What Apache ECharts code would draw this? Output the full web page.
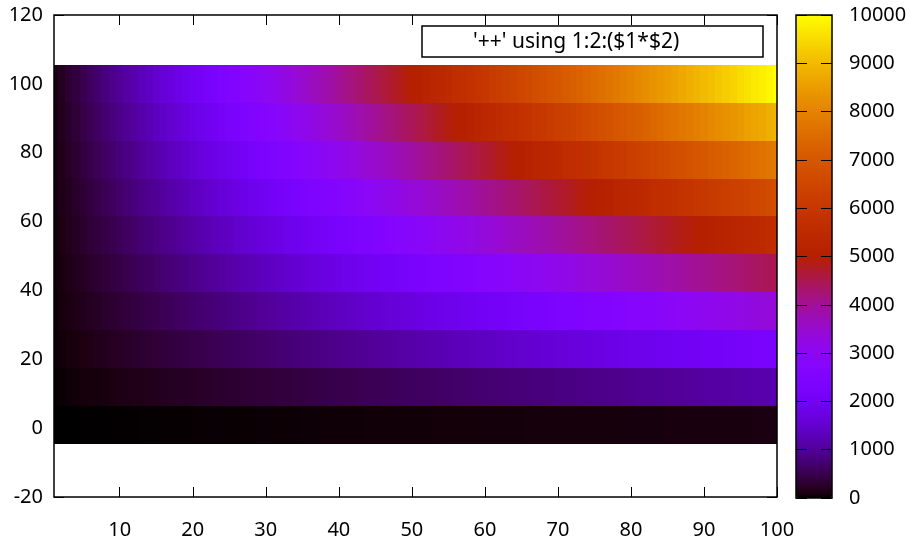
<!DOCTYPE html>
<html>
<head>
<meta charset="utf-8">
<script src="https://cdn.jsdelivr.net/npm/echarts@6/dist/echarts.min.js"></script>
<style>
html,body{margin:0;padding:0;background:#fff;}
#chart{width:911px;height:540px;}
</style>
</head>
<body>
<div id="chart"></div>
<script>
// ---- data ----
const xValues = [1,2,3,4,5,6,7,8,9,10,11,12,13,14,15,16,17,18,19,20,21,22,23,24,25,26,27,28,29,30,31,32,33,34,35,36,37,38,39,40,41,42,43,44,45,46,47,48,49,50,51,52,53,54,55,56,57,58,59,60,61,62,63,64,65,66,67,68,69,70,71,72,73,74,75,76,77,78,79,80,81,82,83,84,85,86,87,88,89,90,91,92,93,94,95,96,97,98,99,100];
const yValues = [1, 12, 23, 34, 45, 56, 67, 78, 89, 100];

const zRowY1 = [1,2,3,4,5,6,7,8,9,10,11,12,13,14,15,16,17,18,19,20,21,22,23,24,25,26,27,28,29,30,31,32,33,34,35,36,37,38,39,40,41,42,43,44,45,46,47,48,49,50,51,52,53,54,55,56,57,58,59,60,61,62,63,64,65,66,67,68,69,70,71,72,73,74,75,76,77,78,79,80,81,82,83,84,85,86,87,88,89,90,91,92,93,94,95,96,97,98,99,100];
const zRowY12 = [12,24,36,48,60,72,84,96,108,120,132,144,156,168,180,192,204,216,228,240,252,264,276,288,300,312,324,336,348,360,372,384,396,408,420,432,444,456,468,480,492,504,516,528,540,552,564,576,588,600,612,624,636,648,660,672,684,696,708,720,732,744,756,768,780,792,804,816,828,840,852,864,876,888,900,912,924,936,948,960,972,984,996,1008,1020,1032,1044,1056,1068,1080,1092,1104,1116,1128,1140,1152,1164,1176,1188,1200];
const zRowY23 = [23,46,69,92,115,138,161,184,207,230,253,276,299,322,345,368,391,414,437,460,483,506,529,552,575,598,621,644,667,690,713,736,759,782,805,828,851,874,897,920,943,966,989,1012,1035,1058,1081,1104,1127,1150,1173,1196,1219,1242,1265,1288,1311,1334,1357,1380,1403,1426,1449,1472,1495,1518,1541,1564,1587,1610,1633,1656,1679,1702,1725,1748,1771,1794,1817,1840,1863,1886,1909,1932,1955,1978,2001,2024,2047,2070,2093,2116,2139,2162,2185,2208,2231,2254,2277,2300];
const zRowY34 = [34,68,102,136,170,204,238,272,306,340,374,408,442,476,510,544,578,612,646,680,714,748,782,816,850,884,918,952,986,1020,1054,1088,1122,1156,1190,1224,1258,1292,1326,1360,1394,1428,1462,1496,1530,1564,1598,1632,1666,1700,1734,1768,1802,1836,1870,1904,1938,1972,2006,2040,2074,2108,2142,2176,2210,2244,2278,2312,2346,2380,2414,2448,2482,2516,2550,2584,2618,2652,2686,2720,2754,2788,2822,2856,2890,2924,2958,2992,3026,3060,3094,3128,3162,3196,3230,3264,3298,3332,3366,3400];
const zRowY45 = [45,90,135,180,225,270,315,360,405,450,495,540,585,630,675,720,765,810,855,900,945,990,1035,1080,1125,1170,1215,1260,1305,1350,1395,1440,1485,1530,1575,1620,1665,1710,1755,1800,1845,1890,1935,1980,2025,2070,2115,2160,2205,2250,2295,2340,2385,2430,2475,2520,2565,2610,2655,2700,2745,2790,2835,2880,2925,2970,3015,3060,3105,3150,3195,3240,3285,3330,3375,3420,3465,3510,3555,3600,3645,3690,3735,3780,3825,3870,3915,3960,4005,4050,4095,4140,4185,4230,4275,4320,4365,4410,4455,4500];
const zRowY56 = [56,112,168,224,280,336,392,448,504,560,616,672,728,784,840,896,952,1008,1064,1120,1176,1232,1288,1344,1400,1456,1512,1568,1624,1680,1736,1792,1848,1904,1960,2016,2072,2128,2184,2240,2296,2352,2408,2464,2520,2576,2632,2688,2744,2800,2856,2912,2968,3024,3080,3136,3192,3248,3304,3360,3416,3472,3528,3584,3640,3696,3752,3808,3864,3920,3976,4032,4088,4144,4200,4256,4312,4368,4424,4480,4536,4592,4648,4704,4760,4816,4872,4928,4984,5040,5096,5152,5208,5264,5320,5376,5432,5488,5544,5600];
const zRowY67 = [67,134,201,268,335,402,469,536,603,670,737,804,871,938,1005,1072,1139,1206,1273,1340,1407,1474,1541,1608,1675,1742,1809,1876,1943,2010,2077,2144,2211,2278,2345,2412,2479,2546,2613,2680,2747,2814,2881,2948,3015,3082,3149,3216,3283,3350,3417,3484,3551,3618,3685,3752,3819,3886,3953,4020,4087,4154,4221,4288,4355,4422,4489,4556,4623,4690,4757,4824,4891,4958,5025,5092,5159,5226,5293,5360,5427,5494,5561,5628,5695,5762,5829,5896,5963,6030,6097,6164,6231,6298,6365,6432,6499,6566,6633,6700];
const zRowY78 = [78,156,234,312,390,468,546,624,702,780,858,936,1014,1092,1170,1248,1326,1404,1482,1560,1638,1716,1794,1872,1950,2028,2106,2184,2262,2340,2418,2496,2574,2652,2730,2808,2886,2964,3042,3120,3198,3276,3354,3432,3510,3588,3666,3744,3822,3900,3978,4056,4134,4212,4290,4368,4446,4524,4602,4680,4758,4836,4914,4992,5070,5148,5226,5304,5382,5460,5538,5616,5694,5772,5850,5928,6006,6084,6162,6240,6318,6396,6474,6552,6630,6708,6786,6864,6942,7020,7098,7176,7254,7332,7410,7488,7566,7644,7722,7800];
const zRowY89 = [89,178,267,356,445,534,623,712,801,890,979,1068,1157,1246,1335,1424,1513,1602,1691,1780,1869,1958,2047,2136,2225,2314,2403,2492,2581,2670,2759,2848,2937,3026,3115,3204,3293,3382,3471,3560,3649,3738,3827,3916,4005,4094,4183,4272,4361,4450,4539,4628,4717,4806,4895,4984,5073,5162,5251,5340,5429,5518,5607,5696,5785,5874,5963,6052,6141,6230,6319,6408,6497,6586,6675,6764,6853,6942,7031,7120,7209,7298,7387,7476,7565,7654,7743,7832,7921,8010,8099,8188,8277,8366,8455,8544,8633,8722,8811,8900];
const zRowY100 = [100,200,300,400,500,600,700,800,900,1000,1100,1200,1300,1400,1500,1600,1700,1800,1900,2000,2100,2200,2300,2400,2500,2600,2700,2800,2900,3000,3100,3200,3300,3400,3500,3600,3700,3800,3900,4000,4100,4200,4300,4400,4500,4600,4700,4800,4900,5000,5100,5200,5300,5400,5500,5600,5700,5800,5900,6000,6100,6200,6300,6400,6500,6600,6700,6800,6900,7000,7100,7200,7300,7400,7500,7600,7700,7800,7900,8000,8100,8200,8300,8400,8500,8600,8700,8800,8900,9000,9100,9200,9300,9400,9500,9600,9700,9800,9900,10000];

const xTickLabels = [10, 20, 30, 40, 50, 60, 70, 80, 90, 100];
const legendText = "'++' using 1:2:($1*$2)";

// ---- build ----
const zRows = [zRowY1, zRowY12, zRowY23, zRowY34, zRowY45, zRowY56, zRowY67, zRowY78, zRowY89, zRowY100];
const cells = [];
yValues.forEach((y, j) => {
  xValues.forEach((x, i) => { cells.push([x, y, zRows[j][i]]); });
});

// gnuplot default pm3d palette (rgbformulae 7,5,15)
function pm3d(t) {
  const r = Math.sqrt(t), g = t * t * t, b = Math.max(0, Math.sin(2 * Math.PI * t));
  const h = v => Math.round(Math.min(1, Math.max(0, v)) * 255).toString(16).padStart(2, '0');
  return '#' + h(r) + h(g) + h(b);
}
const paletteStops = [];
for (let k = 0; k <= 200; k++) paletteStops.push(pm3d(k / 200));

const FONT = '"Noto Sans", "Open Sans", sans-serif';
const labelStyle = { color: '#000', fontFamily: FONT, fontSize: 20 };
const tickStyle = { color: '#000', width: 1 };
const plain = v => String(v);

const chart = echarts.init(document.getElementById('chart'), null, { renderer: 'canvas' });
chart.setOption({
  animation: false,
  backgroundColor: '#fff',
  grid: [
    { left: 54, top: 15, right: 134, bottom: 42, show: true, backgroundColor: 'transparent', borderColor: '#000', borderWidth: 1.5, z: 3 },
    { left: 796, top: 15, width: 36, bottom: 42, show: true, backgroundColor: 'transparent', borderColor: '#000', borderWidth: 1.5, z: 6 }
  ],
  xAxis: [
    { gridIndex: 0, type: 'value', min: 1, max: 100, position: 'bottom',
      axisLine: { show: false, onZero: false }, splitLine: { show: false },
      axisTick: { show: true, inside: true, length: 10, lineStyle: tickStyle, customValues: xTickLabels },
      axisLabel: Object.assign({ margin: 23, customValues: xTickLabels, formatter: plain }, labelStyle) },
    { gridIndex: 0, type: 'value', min: 1, max: 100, position: 'top',
      axisLine: { show: false, onZero: false }, splitLine: { show: false },
      axisTick: { show: true, inside: true, length: 10, lineStyle: tickStyle, customValues: xTickLabels },
      axisLabel: { show: false } },
    { gridIndex: 1, type: 'value', min: 0, max: 1, show: false, axisLine: { onZero: false } }
  ],
  yAxis: [
    { gridIndex: 0, type: 'value', min: -20, max: 120, interval: 20, position: 'left',
      axisLine: { show: false, onZero: false }, splitLine: { show: false },
      axisTick: { show: true, inside: true, length: 10, lineStyle: tickStyle },
      axisLabel: Object.assign({ margin: 11, padding: [7, 0, 0, 0], formatter: plain }, labelStyle) },
    { gridIndex: 0, type: 'value', min: -20, max: 120, interval: 20, position: 'right',
      axisLine: { show: false, onZero: false }, splitLine: { show: false },
      axisTick: { show: true, inside: true, length: 10, lineStyle: tickStyle },
      axisLabel: { show: false } },
    { gridIndex: 1, type: 'value', min: 0, max: 10000, interval: 1000, position: 'right', z: 7,
      axisLine: { show: false, onZero: false }, splitLine: { show: false },
      axisTick: { show: true, inside: true, length: 36,
        lineStyle: { color: '#000', width: 1, type: [11, 14] } },
      axisLabel: Object.assign({ margin: 17, padding: [3, 0, 0, 0], formatter: plain }, labelStyle) }
  ],
  visualMap: {
    type: 'continuous', seriesIndex: 0, dimension: 2, min: 0, max: 10000,
    calculable: false, hoverLink: false, show: true,
    left: 796, top: 15, itemWidth: 36, itemHeight: 483, padding: 0,
    text: null, showLabel: false,
    inRange: { color: paletteStops }
  },
  graphic: [
    { type: 'rect', z: 10, shape: { x: 422, y: 26, width: 341, height: 31 },
      style: { fill: '#fff', stroke: '#000', lineWidth: 1.5 } },
    { type: 'text', z: 11, x: 473, y: 42,
      style: { text: legendText, fill: '#000', font: '21px ' + FONT, verticalAlign: 'middle' } }
  ],
  series: [{
    type: 'custom',
    coordinateSystem: 'cartesian2d',
    xAxisIndex: 0, yAxisIndex: 0,
    dimensions: ['x', 'y', 'z'],
    encode: { x: 0, y: 1 },
    data: cells,
    renderItem: function (params, api) {
      const x = api.value(0), y = api.value(1);
      const p0 = api.coord([x - 0.5, y + 5.5]);
      const p1 = api.coord([x + 0.5, y - 5.5]);
      const cs = params.coordSys;
      const x0 = Math.round(p0[0]), x1 = Math.round(p1[0]);
      const y0 = Math.round(p0[1]), y1 = Math.round(p1[1]);
      const rect = echarts.graphic.clipRectByRect(
        { x: x0, y: y0, width: x1 - x0, height: y1 - y0 },
        { x: cs.x, y: cs.y, width: cs.width, height: cs.height });
      if (!rect) return;
      return { type: 'rect', shape: rect, style: { fill: api.visual('color') } };
    }
  }]
});
</script>
</body>
</html>
